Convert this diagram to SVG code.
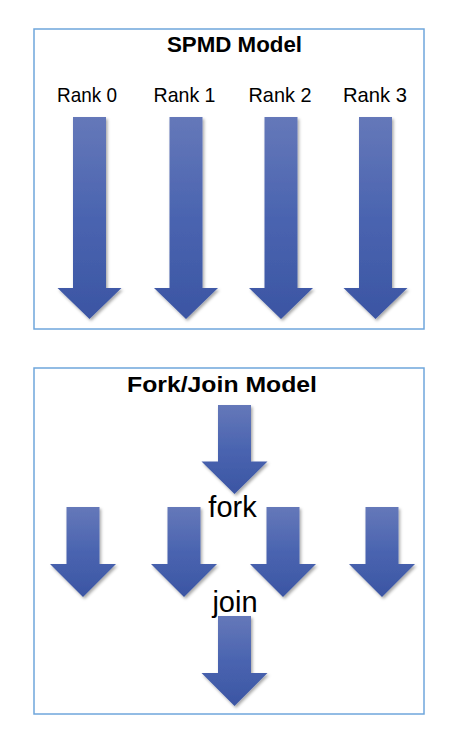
<svg xmlns="http://www.w3.org/2000/svg" xmlns:xlink="http://www.w3.org/1999/xlink" width="464" height="742" viewBox="0 0 464 742">
<defs>
<style>
.box{fill:#ffffff;stroke:#6fa6dc;stroke-width:1.5}
.title{font-family:"Liberation Sans",Arial,sans-serif;font-weight:bold;font-size:22px;fill:#000;text-anchor:middle}
.rank{font-family:"Liberation Sans",Arial,sans-serif;font-size:21px;fill:#000;text-anchor:middle}
.lbl{font-family:"Liberation Sans",Arial,sans-serif;font-size:29px;fill:#000;text-anchor:middle}
.arrow{fill:url(#ag);filter:url(#sh)}
</style>
<linearGradient id="ag" x1="0" y1="0" x2="0" y2="1">
<stop offset="0" stop-color="#6578b9"/>
<stop offset="0.5" stop-color="#4a64b0"/>
<stop offset="1" stop-color="#3b55a3"/>
</linearGradient>
<filter id="sh" x="-20%" y="-10%" width="150%" height="130%">
<feDropShadow dx="1.5" dy="2" stdDeviation="1.8" flood-color="#000" flood-opacity="0.35"/>
</filter>
<path id="longArrow" d="M-16.5,0 H16.5 V171 H32 L0,202 L-32,171 H-16.5 Z"/>
<path id="shortArrow" d="M-16.5,0 H16.5 V57 H33 L0,90 L-33,57 H-16.5 Z"/>
</defs>
<rect width="464" height="742" fill="#ffffff"/>

<g id="spmd-box">
<rect class="box" x="34" y="29" width="390" height="300"/>
<text class="title" x="234.5" y="52" textLength="135" lengthAdjust="spacingAndGlyphs">SPMD Model</text>
</g>

<g id="rank0">
<text class="rank" x="87" y="101.5" textLength="60" lengthAdjust="spacingAndGlyphs">Rank 0</text>
<use class="arrow" xlink:href="#longArrow" href="#longArrow" transform="translate(89.5,117)"/>
</g>
<g id="rank1">
<text class="rank" x="184.5" y="101.5" textLength="62" lengthAdjust="spacingAndGlyphs">Rank 1</text>
<use class="arrow" xlink:href="#longArrow" href="#longArrow" transform="translate(186,117)"/>
</g>
<g id="rank2">
<text class="rank" x="280" y="101.5" textLength="63" lengthAdjust="spacingAndGlyphs">Rank 2</text>
<use class="arrow" xlink:href="#longArrow" href="#longArrow" transform="translate(281,117)"/>
</g>
<g id="rank3">
<text class="rank" x="375" y="101.5" textLength="64" lengthAdjust="spacingAndGlyphs">Rank 3</text>
<use class="arrow" xlink:href="#longArrow" href="#longArrow" transform="translate(375.5,117)"/>
</g>

<g id="forkjoin-box">
<rect class="box" x="34" y="368" width="390" height="346"/>
<text class="title" x="222" y="392" textLength="190" lengthAdjust="spacingAndGlyphs">Fork/Join Model</text>
</g>

<g id="master-top">
<use class="arrow" xlink:href="#shortArrow" href="#shortArrow" transform="translate(234.5,405) scale(1,0.99)"/>
</g>
<g id="fork">
<text class="lbl" x="232.5" y="517">fork</text>
</g>
<g id="worker0">
<use class="arrow" xlink:href="#shortArrow" href="#shortArrow" transform="translate(83,507)"/>
</g>
<g id="worker1">
<use class="arrow" xlink:href="#shortArrow" href="#shortArrow" transform="translate(184,507)"/>
</g>
<g id="worker2">
<use class="arrow" xlink:href="#shortArrow" href="#shortArrow" transform="translate(283,507)"/>
</g>
<g id="worker3">
<use class="arrow" xlink:href="#shortArrow" href="#shortArrow" transform="translate(382,507)"/>
</g>
<g id="join">
<text class="lbl" x="235" y="612">join</text>
</g>
<g id="master-bottom">
<use class="arrow" xlink:href="#shortArrow" href="#shortArrow" transform="translate(234.5,616)"/>
</g>
<g id="connectors"></g>
</svg>
